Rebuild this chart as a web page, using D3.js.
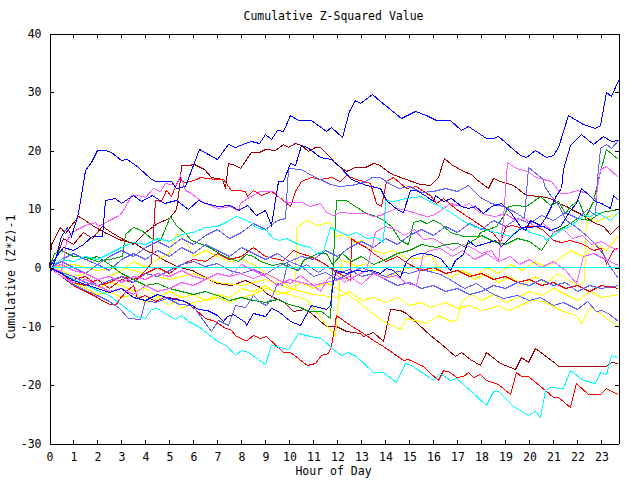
<!DOCTYPE html>
<html><head><meta charset="utf-8">
<script src="https://cdn.jsdelivr.net/npm/d3@7"></script>
<style>
html,body{margin:0;padding:0;background:#fff;}
svg text{font-family:"DejaVu Sans Mono",monospace;font-size:11.5px;fill:#000;}
</style></head><body>
<svg id="chart" width="640" height="480"></svg>
<script>
// ---- data: [hour, cumulative value] ----
const hourTicks = [0,1,2,3,4,5,6,7,8,9,10,11,12,13,14,15,16,17,18,19,20,21,22,23];
const valueTicks = [-30,-20,-10,0,10,20,30,40];

const blueA = [[0,0],[0.1,-0.4],[0.3,1.9],[0.52,5.3],[0.73,6.8],[0.93,5.3],[1.21,9.3],[1.49,16.6],[1.73,18],[1.98,20],[2.32,20],[2.57,19.7],[3.02,18.4],[3.23,18.5],[3.7,17.2],[4.27,15],[4.45,14.7],[5.08,14.7],[5.3,13.6],[5.65,13.8],[5.93,16.6],[6.24,20.2],[6.98,18.5],[7.45,21],[7.74,20.6],[8.15,21.2],[8.43,21.6],[8.74,21.2],[8.99,22.8],[9.24,21.9],[9.48,23.5],[9.74,23.2],[10.03,26],[10.36,25.2],[10.93,25.2],[11.56,23.3],[11.77,24],[12.2,22.3],[12.49,26.7],[12.74,28.5],[12.95,28.1],[13.45,29.6],[13.78,28.4],[14.2,27],[14.68,25.5],[15.24,26.7],[15.73,26],[16.14,25.1],[16.7,25.2],[17.18,23.5],[17.45,24.2],[18.23,22.1],[18.49,22.1],[18.7,22.5],[19.61,19.2],[19.89,18.9],[20.24,20.1],[20.73,18.9],[20.99,19.2],[21.2,20.6],[21.61,26],[21.98,25.2],[22.24,24.5],[22.74,23.8],[22.95,24.3],[23.2,30],[23.43,29.2],[23.7,32]];
const blueB = [[0,0],[0.3,2],[0.6,3.5],[1,3],[1.4,4],[1.8,5.3],[2.2,5.3],[2.32,11.5],[2.74,11.8],[3.02,10.9],[3.49,12.4],[3.85,11.3],[4.3,12.4],[4.8,11],[5.3,11.5],[5.8,10],[6.2,11.5],[6.49,11],[7.03,10.4],[7.53,10.7],[7.86,9.8],[8.23,10.7],[8.64,9],[8.99,9.8],[9.27,7.3],[9.53,14.7],[9.74,14.7],[10.03,17.8],[10.24,17.5],[10.52,20.9],[10.73,20.6],[11.28,18.8],[11.77,18.5],[12.11,17.2],[12.6,15],[13.22,14.1],[13.78,13.6],[14.06,11.5],[14.53,9.8],[14.74,9.5],[15.03,13.2],[15.31,13.2],[15.73,12.1],[15.99,11.3],[16.07,12.4],[16.4,11.3],[16.77,11.9],[17.18,10.4],[17.45,10.2],[17.74,10.4],[18.07,9.3],[18.43,10.4],[18.85,11],[19.27,9.3],[19.61,7],[19.82,6.4],[20.03,8.1],[20.45,7.3],[20.73,8.7],[20.93,10.4],[21.14,12.4],[21.35,13.5],[21.4,16.7],[21.7,20.9],[22.18,22.8],[22.65,21.1],[23.07,22.4],[23.43,21.5],[23.7,21.7]];
const blueC = [[0,0],[0.5,-1],[1,-2.2],[1.5,-2.8],[2,-3.6],[2.5,-4.2],[3,-3.5],[3.5,-5],[4,-5.6],[4.5,-4.5],[5,-5.2],[5.5,-5.5],[5.66,-5.8],[6.2,-7.2],[6.6,-7.3],[7,-8.1],[7.24,-9.1],[7.4,-8.4],[7.65,-7.9],[8.15,-9.4],[8.22,-9.8],[8.49,-7.8],[8.99,-8.3],[9.27,-6.9],[9.53,-7.5],[10.03,-9.2],[10.45,-9.8],[10.93,-6.4],[11.55,-7.2],[11.7,-6.4],[11.82,-2.4],[11.98,-0.4],[12.39,-1],[12.81,-0.4],[13.15,-0.7],[13.43,-0.4],[13.78,-1],[14.06,-0.2],[14.32,-0.4],[14.61,-1.6],[14.89,1],[15.1,1.9],[15.45,2.5],[15.86,2.2],[16.28,1.6],[16.7,-0.4],[16.9,1.3],[17.24,2.2],[17.45,4.7],[17.74,3.6],[18.15,4.2],[18.57,4.7],[18.85,3.6],[19.32,5.6],[19.53,6.4],[19.74,6.8],[20.57,7],[20.86,6.4],[21.28,7],[21.7,9.8],[21.97,11],[22.18,13.6],[22.53,12.1],[22.74,11.3],[23.02,11],[23.36,10.2],[23.49,12.4],[23.7,11.5]];
const lightBlue1 = [[0,0],[0.5,-0.8],[1,-1.5],[1.5,-2.5],[2,-3],[2.5,-2.2],[3,-1.5],[3.5,-2.5],[4,-1],[4.5,-1.5],[5,-0.5],[5.5,0.5],[6,1],[6.5,0.2],[7,0.8],[7.5,-0.5],[8,-1],[8.5,-0.3],[9,-1.2],[9.5,0.3],[10,1],[10.5,0.2],[11,-1.5],[11.5,-0.8],[12,-2],[12.5,-1],[13,0],[13.5,-0.8],[14,-1.5],[14.5,-0.6],[15,-1],[15.5,-0.3],[16,-0.8],[16.3,-1.2],[16.75,-2.1],[17.3,-3.5],[17.8,-2.7],[18.4,-4.4],[18.9,-5.2],[19.5,-4.7],[20,-5.5],[20.45,-5],[21,-6.4],[21.4,-6],[22,-7.2],[22.4,-5.8],[22.8,-7.5],[23,-7.3],[23.3,-7.8],[23.7,-9.2]];
const lightBlue2 = [[0,0],[0.5,1],[1,0],[1.5,-1],[2,0.5],[2.5,-0.5],[3,1.5],[3.5,2.5],[4,1.5],[4.5,3],[5,2],[5.5,3.5],[6,2.5],[6.5,4],[7,3],[7.5,2],[8,3.5],[8.5,2.5],[9,1.5],[9.5,2.5],[10,1],[10.5,2],[11,1.5],[11.5,3],[12,2],[12.5,3.5],[13,4.5],[13.5,3.5],[14,5],[14.5,4],[15,5.5],[15.5,6.5],[16,5.5],[16.5,7],[17,6],[17.5,7.5],[18,6.5],[18.5,8],[19,7],[19.5,8.5],[20,7.5],[20.5,9],[21,8],[21.5,9.5],[22,8.5],[22.4,10],[22.75,9],[22.85,15],[22.97,20.4],[23.22,21.1],[23.43,20.4],[23.7,21.8]];
const lightBlue3 = [[0,0],[0.5,1.5],[1,2.5],[1.5,1.5],[2,0.5],[2.5,2],[3,3],[3.5,2],[4,3.5],[4.5,4.5],[5,3.5],[5.5,5],[6,4],[6.5,5.5],[7,6.5],[7.5,5],[8,6],[8.5,7.5],[9,6.5],[9.5,8],[9.85,8.5],[9.95,17],[10.5,16.8],[10.93,15.8],[11.3,15],[11.7,14.2],[12.1,13.8],[12.6,14],[13.1,14.6],[13.45,15.4],[13.8,15.4],[14.2,14.2],[14.6,13.5],[15,13.8],[15.5,12.8],[16,13],[16.5,13.5],[17,13],[17.45,14.1],[17.95,12],[18.4,11],[18.9,10.5],[19.4,9.5],[19.8,8.5],[19.94,17.2],[20.57,15],[20.62,13.8],[20.9,12.1],[21.15,11],[21.56,8.1],[21.98,6.8],[22.4,5.3],[22.74,3.9],[23.07,2.2],[23.36,0.1],[23.7,-1.8]];
const lightBlue4 = [[0,0],[0.5,-1.5],[1,-2.8],[1.5,-3.8],[2,-4.8],[2.5,-5.8],[2.9,-7],[3.3,-8.6],[3.8,-8.9],[3.98,-5.5],[4.4,-6],[4.9,-5.3],[5.4,-6.2],[5.95,-6.4],[6.77,-10.9],[7.03,-9],[7.45,-9.8],[7.74,-6.4],[8.15,-6.7],[8.49,-4.7],[8.8,-6],[9.06,-6.4],[9.27,-5.2],[9.48,-2.7],[9.7,-3],[9.9,0.7],[10.3,-0.5],[10.7,0.5],[11.2,-0.8],[11.6,0.3],[12,-1],[12.5,-0.3],[13,-1.5],[13.5,-1],[14,-2],[14.5,-3],[15,-2.5],[15.5,-3.5],[16,-3],[16.5,-4],[17,-3.5],[17.5,-4.5],[18,-4],[18.5,-3],[19,-3.5],[19.5,-2.5],[20,-3],[20.5,-2],[21,-3],[21.5,-2.5],[22,-4],[22.5,-3],[23,-3.5],[23.7,-3]];
const green1 = [[0,0],[0.5,1.5],[1,2.5],[1.5,1.5],[2,2],[2.5,0.5],[3,-1],[3.5,-2],[4,-3],[4.5,-2.6],[5,-3.5],[5.5,-4],[6,-4.6],[6.5,-4],[7,-4.8],[7.5,-5.5],[8,-5],[8.5,-5.6],[9,-6],[9.5,-5.4],[10,-6.2],[10.45,-6.7],[10.78,-7.5],[11.35,-7.5],[11.7,-8.6],[11.98,11.5],[12.39,11.5],[12.74,10.4],[13.22,9.3],[13.64,8.7],[13.9,8.1],[14.27,7],[14.61,4.7],[14.95,3.9],[15.15,7.8],[15.45,8.1],[15.73,7.6],[15.99,8.1],[16.28,7.6],[16.7,6.1],[17.24,5.3],[17.86,5.3],[17.95,6.1],[18.64,7],[18.9,8.7],[19.11,10.4],[19.4,10.7],[19.89,10.4],[20.45,12.1],[20.86,10.7],[21.2,11.3],[21.49,9.3],[21.7,10.4],[22.03,11.5],[22.32,8.6],[22.65,11.3],[22.86,15],[23.2,20.2],[23.7,18.5]];
const green2 = [[0,0],[0.2,2.5],[0.5,3],[1,2],[1.5,1.8],[2,1],[2.5,1.5],[3.05,1.9],[3.15,5.6],[3.49,6.8],[3.85,6.4],[4.27,5],[4.61,4.7],[5.03,8.7],[5.3,7.3],[5.65,5.9],[5.93,4.7],[6.6,3.6],[7.3,1.9],[7.86,1],[8.2,2.2],[8.49,1.9],[8.8,1],[9.3,0.4],[9.65,0.7],[10,0],[10.36,-0.4],[10.6,1.3],[10.9,1.9],[11.2,2.5],[11.56,2.4],[11.8,0.5],[12.2,2.5],[12.6,1],[13,2],[13.5,0.5],[14,1.5],[14.5,2.5],[15,3],[15.5,4],[15.86,3.6],[16.14,3.4],[16.5,4],[17,4.2],[17.3,3.6],[17.6,4.5],[18,5.5],[18.5,4.5],[19,4],[19.5,5],[20,4.5],[20.5,3],[21,6],[21.5,7],[22,8.5],[22.5,8],[23,9.5],[23.7,10]];
const cyanUpper = [[0,0],[0.5,1.5],[1,1],[1.5,2],[2,1.5],[2.5,2.5],[3,3.5],[3.5,4.4],[4,4],[4.5,5],[5,4.5],[5.5,5.6],[6,6],[6.5,6.8],[7,7],[7.32,7.8],[7.81,8.7],[8.23,8.1],[8.64,6.8],[9.06,6.4],[9.32,5],[9.6,4.7],[9.89,5],[10.36,3.9],[10.86,3.4],[11.14,2.5],[11.4,2.7],[11.7,6.8],[11.98,6.4],[12.4,5.5],[12.8,6],[13.2,5],[13.6,5.2],[13.9,4.4],[13.99,11.5],[14.32,11.3],[14.89,11.8],[15.45,12.1],[15.9,11.2],[16.28,10.4],[16.7,9.5],[17.2,8],[17.74,6.8],[18.64,6.1],[19.2,5.3],[19.68,6.8],[20.03,6.1],[20.57,5.3],[20.73,4.7],[21.28,6.4],[21.7,7],[22.24,9],[22.53,8.7],[22.81,9.5],[23.07,8.7],[23.36,8.1],[23.7,9.5]];
const cyanLower = [[0,0],[0.5,-1],[1,-2],[1.5,-2.8],[2,-3.8],[2.5,-4.8],[2.87,-6],[3.23,-7.2],[3.64,-8.4],[3.99,-8.6],[4.27,-7.2],[4.48,-6.9],[4.74,-7.7],[5.24,-8.9],[5.52,-8.1],[5.78,-9.2],[6.2,-10.1],[6.98,-12.6],[7.39,-13.2],[7.74,-14.9],[8.02,-14.1],[8.28,-14.4],[8.99,-16.5],[9.27,-13.2],[9.95,-13.9],[10.36,-11.2],[10.86,-11.8],[11.35,-12],[11.82,-13.9],[12.18,-14.9],[12.45,-14.4],[12.81,-15.2],[13.49,-17.8],[13.9,-17.8],[14.48,-19.6],[14.82,-16.3],[15.1,-16.6],[15.99,-19.2],[16.28,-18],[16.7,-19.2],[16.98,-18.9],[17.6,-21.2],[18.23,-23.5],[18.49,-21.2],[18.7,-21.2],[19.32,-23.7],[19.95,-25.2],[20.24,-24.5],[20.45,-25.5],[20.65,-20.9],[20.86,-20.5],[21.4,-20.6],[21.7,-17.6],[22.24,-19.2],[22.74,-19.7],[22.95,-17.9],[23.22,-18.3],[23.43,-14.9],[23.7,-15.4]];
const cyanZero = [[0,0],[23.7,0]];
const redUpper = [[0,0],[0.5,-1],[1,-2.5],[1.5,-3],[2,-2],[2.5,-3.5],[3,-2],[3.5,-2.5],[4,-0.5],[4.27,0.8],[4.4,11.5],[4.68,11.3],[4.89,13.2],[5.1,12.1],[5.36,15],[5.65,14.5],[5.86,14.7],[6.14,15],[6.28,15.5],[6.56,15.3],[6.98,15],[7.24,15],[7.6,13.2],[7.86,13.2],[8.15,13],[8.23,12.1],[8.49,13.2],[8.85,12.4],[9.27,13],[9.74,11.5],[10.03,10.4],[10.24,13],[10.52,14.7],[10.93,15.5],[11.28,15],[11.77,15.5],[12.11,14.7],[12.39,15.8],[12.81,15],[13.36,14.4],[13.64,11],[13.85,10.4],[14.06,14.7],[14.32,15.5],[14.89,13.6],[15.31,13.8],[15.73,12.7],[15.86,12.4],[16.14,11],[16.4,11.9],[16.9,10.2],[17.32,9],[17.66,8.1],[18.07,6.8],[18.49,5.9],[18.78,4.4],[18.99,6.8],[19.27,7.3],[19.61,6.8],[20.03,7],[20.3,7],[20.57,6.4],[20.99,4.7],[21.35,4.4],[21.7,4.7],[22.24,3.9],[22.65,3],[23.02,3.3],[23.22,0.8],[23.49,3],[23.7,3.4]];
const redLower = [[0,0],[0.5,-1.5],[1,-3],[1.5,-4],[2,-5],[2.18,-5.5],[2.53,-6.2],[2.81,-6.2],[2.86,-5.5],[3.2,-4.1],[3.5,-3],[3.65,-5.2],[4,-4.7],[4.4,-5.8],[4.8,-5],[5.3,-5.2],[5.72,-6],[6.07,-7.2],[6.49,-8.6],[6.9,-9.2],[7.32,-10.3],[7.53,-10.5],[7.81,-11.8],[8.15,-12.4],[8.23,-12.4],[8.49,-11.5],[8.78,-12],[9.06,-11.8],[9.74,-14.4],[10.03,-14.4],[10.73,-16.6],[11.07,-16.3],[11.35,-14.9],[11.62,-14.6],[11.77,-13.5],[11.97,-8.1],[12.53,-9.8],[13.07,-11.2],[13.49,-12.4],[13.9,-13.5],[14.74,-15.9],[14.95,-15.6],[15.57,-16.9],[15.86,-18],[16.2,-19.2],[16.4,-17.6],[16.7,-17.8],[16.98,-18.7],[17.24,-18.5],[17.45,-17.8],[17.66,-18.7],[17.95,-18.2],[18.23,-19.2],[18.7,-20],[19.2,-21.7],[19.45,-17.8],[19.68,-18.6],[19.95,-18.6],[20.66,-21],[21,-22.1],[21.2,-22.1],[21.7,-23.8],[21.97,-19.7],[22.45,-21.7],[22.95,-21.7],[23.22,-20.6],[23.43,-21.2],[23.7,-21.7]];
const redMiddle = [[0,0],[0.5,-1],[1,-2],[1.5,-1.5],[2,-3],[2.5,-2.5],[3,-1.5],[3.5,-2],[4,-1],[4.5,0],[5,-1],[5.5,0.5],[6,1.5],[6.5,1],[7,2.5],[7.5,1.5],[8,2],[8.5,3.5],[9,2],[9.74,1.3],[10.15,3],[10.45,2.5],[10.86,1.9],[11.3,1],[11.98,-0.7],[12.53,-2.1],[12.6,5],[12.81,4.4],[13.2,3.5],[13.5,2.5],[14,1],[14.5,2],[15,0.5],[15.5,-0.5],[16,0],[16.5,-1],[17,-0.5],[17.5,-1.5],[18,-1],[18.5,-2],[19,-1.5],[19.5,-2.5],[20,-2],[20.5,-3],[21,-2.5],[21.5,-3.5],[22,-3],[22.5,-4],[23,-3],[23.7,-3.5]];
const darkRedUpper = [[0,0],[0.3,2],[0.6,5],[1,4],[1.4,6],[1.8,5],[2.2,7],[2.6,6],[3,5],[3.5,4],[4,6],[4.5,7.5],[5,8.5],[5.3,10],[5.47,15],[5.52,17.5],[5.8,17.5],[6.03,17.7],[6.44,16.7],[6.77,15.5],[7.2,15],[7.35,13.5],[7.45,17.8],[7.74,17.5],[7.95,17],[8.43,19.7],[8.74,19.7],[8.99,20.2],[9.4,20.1],[9.74,21.1],[9.95,20.6],[10.24,21.3],[10.52,20.8],[10.78,19.9],[11.07,20.6],[11.28,20.5],[11.7,18.9],[11.9,17.8],[12.39,16.4],[12.74,17.2],[13.15,17.2],[13.49,17.8],[13.7,17.7],[14.2,16.1],[14.74,15.3],[15.45,14.2],[15.86,14.1],[16.2,15.5],[16.47,18.7],[16.77,17.7],[17.24,16.4],[17.6,16],[17.8,15],[18.28,13.6],[18.49,15.3],[18.78,14.7],[19.32,14.1],[19.89,12.4],[20.45,12.1],[20.86,11.9],[21.2,11],[21.56,10.4],[21.83,9.8],[22.24,9],[22.65,7.8],[23.07,7],[23.36,5.6],[23.7,7]];
const darkRedLower = [[0,0],[0.1,3.9],[0.45,6.8],[0.65,5.9],[1.2,8.7],[1.5,8.1],[1.8,7.3],[2.3,6.1],[3,4.7],[3.6,4.2],[4,3],[4.4,2.2],[4.8,1.3],[5.4,0.1],[5.95,-0.4],[6.5,-1.6],[7,-2.7],[7.6,-3],[8.15,-2.1],[8.78,-3.3],[9.06,-4.4],[9.4,-5.2],[9.74,-5.8],[10.15,-7.5],[10.65,-7.2],[10.93,-7.8],[11.56,-10.1],[11.98,-10.1],[12.39,-10.9],[12.95,-11.2],[13.07,-11.8],[13.49,-11],[13.9,-12.5],[14.2,-7.2],[14.61,-7.3],[14.89,-7.8],[15.86,-11.5],[16.28,-12.9],[16.9,-15.2],[17.18,-14.4],[17.53,-15.6],[17.95,-16.6],[18.23,-14.4],[18.78,-16.3],[19.4,-17.3],[19.68,-15.4],[19.95,-16.1],[20.24,-13.7],[21.07,-16.3],[21.2,-16.8],[23.22,-16.8],[23.43,-16.1],[23.7,-16.3]];
const magenta1 = [[0,0],[0.5,-1.5],[1,-2.5],[1.5,-2],[2,-3],[2.5,-4],[3,-3.5],[3.5,-4.5],[4,-3],[4.5,-4],[5,-3.5],[5.5,-2.5],[6,-3],[6.5,-2],[7,-1],[7.5,-1.5],[8,0.5],[8.5,-0.5],[9,-1.5],[9.5,-3],[10,-2],[10.5,-2.5],[11,-3],[11.3,-4],[11.6,-2],[11.9,-1],[12.3,-2.5],[12.7,-1.5],[13.2,-0.5],[13.6,6],[14,7],[14.4,6.5],[14.8,5.5],[15.2,6.5],[15.6,4.8],[16,5],[16.4,4],[16.8,3],[17.2,4],[17.6,3.5],[18,2.5],[18.4,3],[18.7,1],[18.9,8.5],[19.1,17.9],[19.45,17],[19.9,16.4],[20.3,15.5],[20.57,15],[20.9,14.7],[21.3,12.7],[21.6,12.7],[22,13.2],[22.4,12.7],[22.75,11.3],[22.95,16.7],[23.2,17.3],[23.7,15.5]];
const magenta2 = [[0,0],[0.52,-0.7],[0.72,4.4],[0.86,5.6],[1.07,6.4],[1.5,7.3],[1.9,7.8],[2.05,7],[2.5,8],[2.9,9],[3.1,9.8],[3.28,11.3],[3.43,12.4],[3.7,12.4],[3.99,12],[4.32,13.6],[4.61,13],[4.82,14.4],[5.31,14.1],[5.45,15.8],[5.65,13.2],[5.93,12.7],[6.35,11.3],[6.7,10.7],[7.03,10.2],[7.53,10.5],[7.86,9.8],[7.95,11],[8.23,11.9],[8.78,13],[9.32,13],[9.74,11.3],[10.1,11.1],[10.52,11.1],[10.86,10.4],[11.28,11],[11.56,9.5],[11.82,9],[12.11,9.5],[12.65,9.3],[13.15,9.3],[13.49,8.7],[13.78,9],[14.06,9.5],[14.48,10.1],[14.89,9.8],[15.31,9.3],[15.73,8.7],[16,9],[16.3,9.8],[16.7,11],[17.2,10.4],[17.5,11],[17.9,9.5],[18.3,9],[18.6,8.7],[19,9.3],[19.4,8],[19.8,8.5],[20.2,7],[20.6,7.5],[21,6],[21.4,6.5],[21.8,5],[22.2,5.5],[22.6,4],[23,4.5],[23.4,3.5],[23.7,3]];
const magenta3 = [[0,0],[0.5,0.5],[1,-0.5],[1.5,-1],[2,-2],[2.5,-1.5],[3,-2.5],[3.5,-1.5],[4,-2],[4.5,-1],[5,-1.5],[5.5,-0.5],[6,-1.5],[6.5,-2],[7,-1],[7.5,-1.5],[7.95,-1],[8.49,-1.8],[9.06,-1],[9.6,-2.1],[10.03,-2.7],[10.45,-1.3],[10.98,-3],[11.5,-2.5],[11.98,-2.1],[12.5,-1.5],[13,-2.8],[13.49,-1],[13.9,-1.8],[14.48,-1.3],[14.89,-2.7],[15.31,-3],[15.57,2.5],[15.86,3],[16.28,3.3],[16.8,2],[17.2,3],[17.7,1.5],[18.2,2.5],[18.7,1],[19.2,2],[19.6,0.5],[20,1.5],[20.5,0],[21,1],[21.5,-0.5],[21.97,-2.6],[22.24,1.9],[22.65,2.5],[23.07,1.6],[23.7,0.4]];
const yellow1 = [[0,0],[0.5,-0.5],[1,-1.5],[1.5,-1],[2,-2],[2.5,-1.5],[3,-0.5],[3.5,1],[4,0],[4.5,1.5],[5,2.5],[5.3,5.9],[5.7,4.5],[6,2],[6.5,3],[7,2],[7.5,1],[8,1.5],[8.5,0.5],[9,-1],[9.5,-2],[10.24,-3.8],[10.3,6.8],[10.73,8.1],[11.14,7.3],[11.7,7.8],[11.98,5.3],[12.39,5.6],[12.65,4.4],[13.07,4.7],[13.49,3],[13.9,2.4],[14.32,3],[14.89,1.6],[15.45,1.6],[15.86,2.2],[16.28,-0.4],[16.7,-1.6],[17.2,-0.5],[17.7,-2],[18.2,-1],[18.7,-2.5],[19.2,-1.5],[19.7,-3],[20.2,-1.5],[20.7,-2.5],[21.2,-1],[21.6,-2],[22,-3],[22.3,-2.5],[22.37,9.3],[22.81,7.8],[23.1,8.5],[23.7,9.3]];
const yellow2 = [[0,0],[0.5,-1],[1,-2],[1.5,-3],[2,-3.5],[2.5,-2.5],[3,-3],[3.5,-4],[4,-3.5],[4.5,-5],[5,-4],[5.5,-5],[6,-4.5],[6.5,-5.5],[7,-5],[7.5,-6],[8,-5],[8.5,-4.5],[9,-3.5],[9.5,-4],[10,-4.5],[10.73,-5.5],[11.2,-8],[11.5,-9.5],[11.9,-11.8],[12.18,1.3],[12.39,1],[12.81,0.2],[13.22,0.7],[13.49,-0.4],[14.06,-1.6],[14.61,-0.4],[15.17,0.2],[15.73,-0.4],[16.28,-0.5],[16.7,-1.6],[17.2,-0.5],[17.7,-1.5],[18.2,0],[18.7,-1],[19.2,0.5],[19.7,-0.5],[20.2,1],[20.7,0],[21.2,1.5],[21.7,3],[22.2,2],[22.7,4],[23.2,3],[23.7,5.5]];
const yellow3 = [[0,0],[0.5,-1.5],[1,-2.5],[1.5,-3.5],[2,-4.5],[2.5,-4],[3,-5],[3.5,-4.5],[4,-6],[4.5,-5],[5,-6.5],[5.24,-5.5],[5.5,-7],[6,-6],[6.5,-5.5],[7,-4.5],[7.5,-5],[8,-3.5],[8.5,-4],[9,-3],[9.5,-4.5],[10,-4],[10.5,-2.5],[11,-3.5],[11.5,-2.5],[12,-3.5],[12.4,-4.5],[12.81,-5.5],[13.9,-9.2],[14.61,-10.5],[14.89,-8.6],[15.73,-9.5],[16.2,-8.1],[16.7,-9.2],[16.98,-9],[17.2,-5.5],[17.6,-4.5],[18,-5.5],[18.5,-4.5],[19,-6],[19.5,-5],[20,-4],[20.5,-4.8],[21,-3.5],[21.5,-4.5],[22,-5.5],[22.5,-4],[23,-5],[23.7,-4.5]];
const yellow4 = [[0,0],[1,0.5],[2,-0.5],[3,0],[4,-1],[5,-2],[6,-1],[7,-2.5],[8,-3],[9,-2],[10,-3.5],[11,-4.5],[12,-5],[12.5,-4],[13,-5.5],[13.5,-5],[14,-6],[14.5,-5],[15,-6.5],[15.5,-6],[15.86,-6.7],[16.5,-6],[17,-7],[17.5,-6.5],[18,-7.3],[18.36,-6.9],[18.7,-6.4],[19.1,-7.3],[19.47,-6.7],[20.03,-5.5],[20.57,-5.8],[21.4,-7.5],[21.98,-8.1],[22.18,-9.5],[22.53,-6.7],[22.95,-7.8],[23.22,-8.6],[23.7,-10.1]];

// ---- styles (kept apart from the data) ----
const palette = {
  blue:"#0000ff", lightBlue:"#6060ff", green:"#00a000", cyan:"#00ffff",
  red:"#ff0000", darkRed:"#a00000", magenta:"#ff5cff", yellow:"#ffff00"
};
const seriesList = [
  [darkRedLower,"darkRed"],[darkRedUpper,"darkRed"],
  [yellow4,"yellow"],[yellow3,"yellow"],[yellow2,"yellow"],[yellow1,"yellow"],
  [redMiddle,"red"],[redLower,"red"],[redUpper,"red"],
  [green2,"green"],[green1,"green"],
  [lightBlue4,"lightBlue"],[lightBlue1,"lightBlue"],[lightBlue3,"lightBlue"],[lightBlue2,"lightBlue"],
  [magenta3,"magenta"],[magenta1,"magenta"],[magenta2,"magenta"],
  [cyanLower,"cyan"],[cyanUpper,"cyan"],
  [blueC,"blue"],[blueB,"blue"],[blueA,"blue"],
  [cyanZero,"cyan"]
];

// ---- drawing ----
const svg = d3.select("#chart");
const L = 49.5, R = 618.5, T = 33.5, B = 443.5;
const x = d3.scaleLinear().domain([0, 23.71]).range([L, R]);
const y = d3.scaleLinear().domain([-30, 40]).range([B, T]);
const px = v => Math.round(v - 0.5) + 0.5;   // snap to pixel centres like a bitmap plotter

svg.append("defs").append("clipPath").attr("id","plotclip")
  .append("rect").attr("x",L-0.5).attr("y",T-0.5).attr("width",R-L+1).attr("height",B-T+1);

const line = d3.line().x(d => px(x(d[0]))).y(d => px(y(d[1])));
const g = svg.append("g").attr("clip-path","url(#plotclip)");
seriesList.forEach(([data, c]) => {
  g.append("path").datum(data).attr("d", line)
    .attr("fill","none").attr("stroke", palette[c]).attr("stroke-width",1)
    .attr("shape-rendering","crispEdges");
});

function styleAxis(sel){
  sel.selectAll("path.domain").attr("stroke","#000").attr("shape-rendering","crispEdges");
  sel.selectAll(".tick line").attr("stroke","#000").attr("shape-rendering","crispEdges");
  sel.attr("font-family", null).attr("font-size", null);
  sel.selectAll("text").attr("fill","#000");
}
const xb = svg.append("g").attr("transform",`translate(0,${B})`)
  .call(d3.axisBottom(x).tickValues(hourTicks).tickFormat(d3.format("d")).tickSizeInner(-4).tickSizeOuter(0).tickPadding(9));
styleAxis(xb);
const xt = svg.append("g").attr("transform",`translate(0,${T})`)
  .call(d3.axisTop(x).tickValues(hourTicks).tickFormat("").tickSizeInner(-4).tickSizeOuter(0));
styleAxis(xt);
const yl = svg.append("g").attr("transform",`translate(${L},0)`)
  .call(d3.axisLeft(y).tickValues(valueTicks).tickFormat(d3.format("d")).tickSizeInner(-4).tickSizeOuter(0).tickPadding(8));
styleAxis(yl);
yl.selectAll("text").text(d => d < 0 ? "-" + Math.abs(d) : d);
const yr = svg.append("g").attr("transform",`translate(${R},0)`)
  .call(d3.axisRight(y).tickValues(valueTicks).tickFormat("").tickSizeInner(-4).tickSizeOuter(0));
styleAxis(yr);

svg.append("text").attr("x",333.5).attr("y",20).attr("text-anchor","middle")
  .text("Cumulative Z-Squared Value");
svg.append("text").attr("x",333.5).attr("y",475).attr("text-anchor","middle")
  .text("Hour of Day");
svg.append("text").attr("transform","translate(14.5,277) rotate(-90)").attr("text-anchor","middle")
  .text("Cumulative (Z*Z)-1");
</script>
</body></html>
